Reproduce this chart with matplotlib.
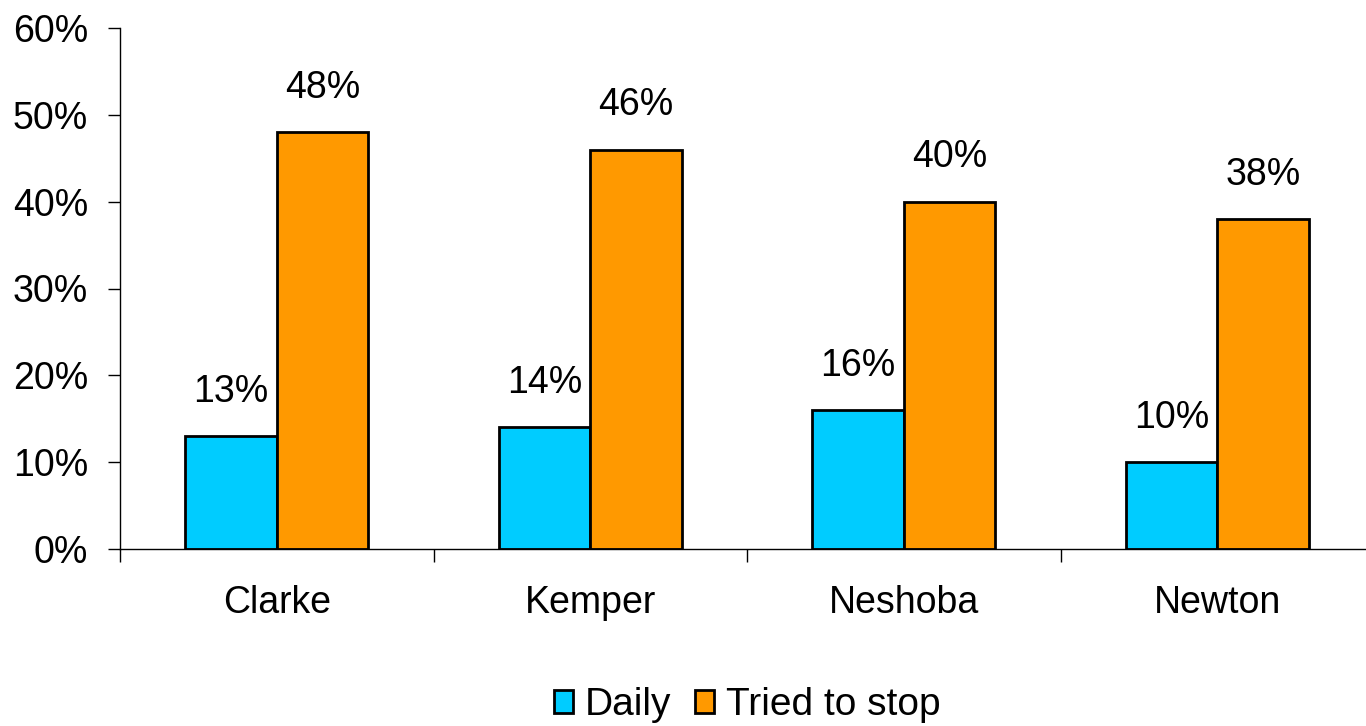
import matplotlib.pyplot as plt
from matplotlib.patches import Patch
import numpy as np

plt.rcParams['font.family'] = ['Liberation Sans', 'DejaVu Sans']

# values
counties = ['Clarke', 'Kemper', 'Neshoba', 'Newton']
daily = [13, 14, 16, 10]
tried_to_stop = [48, 46, 40, 38]
yticks = [0, 10, 20, 30, 40, 50, 60]

blue = '#00CCFF'
orange = '#FF9900'
fs = 27

fig = plt.figure(figsize=(13.66, 7.26), dpi=100)
ax = fig.add_axes([120 / 1366, 1 - 549 / 726, 1254 / 1366, 521 / 726])

x = np.arange(len(counties))
w = 0.292
b1 = ax.bar(x - w / 2, daily, w, color=blue, edgecolor='black', linewidth=2)
b2 = ax.bar(x + w / 2, tried_to_stop, w, color=orange, edgecolor='black', linewidth=2)

# value labels above bars
for bars, vals in [(b1, daily), (b2, tried_to_stop)]:
    for r, v in zip(bars, vals):
        ax.annotate(f'{v}%', (r.get_x() + r.get_width() / 2, v),
                    xytext=(0, 19), textcoords='offset points',
                    ha='center', va='bottom', fontsize=fs)

ax.set_xlim(-0.5, len(counties) - 0.5)
ax.set_ylim(0, 60)
ax.set_yticks(yticks)
ax.set_yticklabels([f'{t}%' for t in yticks])

# category boundaries get the tick marks, names sit between them
ax.set_xticks(np.arange(len(counties) + 1) - 0.5)
ax.set_xticklabels([])
ax.set_xticks(x, minor=True)
ax.set_xticklabels(counties, minor=True)
ax.tick_params(axis='x', which='major', direction='out', length=9, width=1)
ax.tick_params(axis='x', which='minor', length=0, pad=26, labelsize=fs)
ax.tick_params(axis='y', direction='out', length=9, width=1, pad=14, labelsize=fs)

for s in ['top', 'right']:
    ax.spines[s].set_visible(False)
for s in ['left', 'bottom']:
    ax.spines[s].set_linewidth(1)

handles = [Patch(facecolor=blue, edgecolor='black', linewidth=2),
           Patch(facecolor=orange, edgecolor='black', linewidth=2)]
ax.legend(handles, ['Daily', 'Tried to stop'], loc='center',
          bbox_to_anchor=(0.5, -0.30), ncol=2, frameon=False, fontsize=28,
          handlelength=0.5, handleheight=0.5, handletextpad=0.3,
          columnspacing=0.6)

fig.savefig('out.png', dpi=100)
